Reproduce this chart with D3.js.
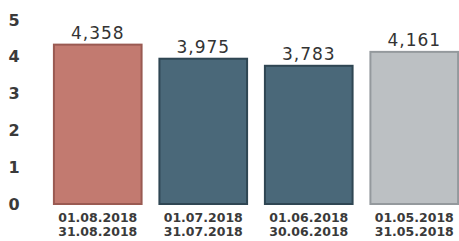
<!DOCTYPE html>
<html><head><meta charset="utf-8">
<script src="https://cdnjs.cloudflare.com/ajax/libs/d3/7.8.5/d3.min.js"></script>
<style>body{margin:0;background:#fff}svg{display:block}</style>
</head><body>
<script>
const categories1 = ["01.08.2018","01.07.2018","01.06.2018","01.05.2018"];
const categories2 = ["31.08.2018","31.07.2018","30.06.2018","31.05.2018"];
const values = [4.358, 3.975, 3.783, 4.161];
const valueLabels = ["4,358","3,975","3,783","4,161"];
const yTicks = [0,1,2,3,4,5];
const fills = ["#c27a70","#4a6879","#4a6879","#bcc0c3"];
const strokes = ["#9a5a52","#2f4653","#2f4653","#94999d"];

const W=459,H=241;
const svg=d3.select("body").append("svg").attr("width",W).attr("height",H);
const x=d3.scaleBand().domain(d3.range(values.length)).range([45,467]).paddingInner(0.15).paddingOuter(0.075);
const y=d3.scaleLinear().domain([0,5]).range([204,20]);

const yAxis=d3.axisLeft(y).tickValues(yTicks).tickSize(0).tickPadding(0).tickFormat(d3.format("d"));
const gy=svg.append("g").attr("transform","translate(14,0)").call(yAxis);
gy.select(".domain").remove();
gy.selectAll("text").attr("font-family","DejaVu Sans").attr("font-size",16).attr("font-weight","bold").attr("fill","#3a3a3a").attr("text-anchor","middle");

svg.selectAll("rect.bar").data(values).join("rect").attr("class","bar")
 .attr("x",(d,i)=>x(i)+1).attr("width",x.bandwidth()-2)
 .attr("y",d=>y(d)+1).attr("height",d=>y(0)-y(d)-1)
 .attr("fill",(d,i)=>fills[i]).attr("stroke",(d,i)=>strokes[i]).attr("stroke-width",2);

svg.selectAll("text.val").data(values).join("text").attr("class","val")
 .attr("x",(d,i)=>x(i)+x.bandwidth()/2).attr("y",d=>y(d)-5)
 .attr("text-anchor","middle").attr("font-family","DejaVu Sans").attr("font-size",17).attr("letter-spacing",1)
 .attr("fill","#333").text((d,i)=>valueLabels[i]);

const xl=svg.selectAll("text.xl").data(values).join("text").attr("class","xl")
 .attr("text-anchor","middle").attr("font-family","DejaVu Sans").attr("font-size",12.5).attr("font-weight","bold").attr("fill","#3a3a3a");
xl.append("tspan").attr("x",(d,i)=>x(i)+x.bandwidth()/2).attr("y",222).text((d,i)=>categories1[i]);
xl.append("tspan").attr("x",(d,i)=>x(i)+x.bandwidth()/2).attr("y",236).text((d,i)=>categories2[i]);
</script>
</body></html>
